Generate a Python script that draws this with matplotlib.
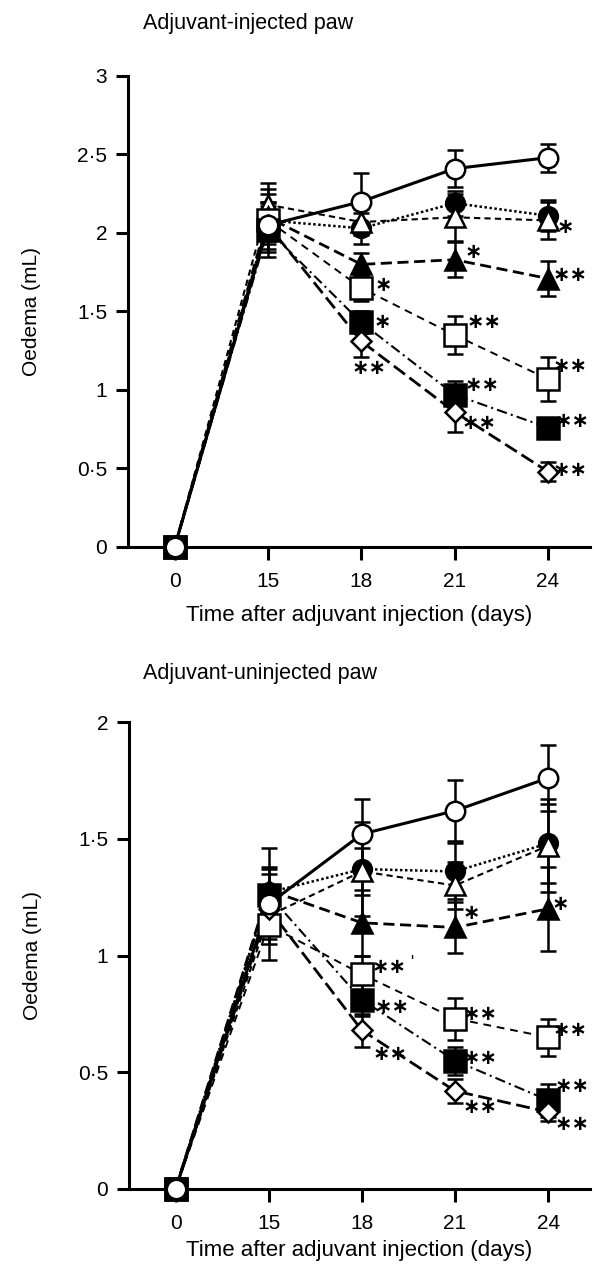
import matplotlib
matplotlib.use("Agg")
import matplotlib.pyplot as plt
import numpy as np

plt.rcParams['font.family'] = ['Liberation Sans', 'DejaVu Sans']

# ---------------- data ----------------
days = ['0', '15', '18', '21', '24']

# Adjuvant-injected paw
inj_ctrl = [0, 2.05, 2.20, 2.41, 2.48]
inj_ctrl_se = [0, 0.15, 0.18, 0.12, 0.09]
inj_fcirc = [0, 2.08, 2.03, 2.19, 2.11]
inj_fcirc_se = [0, 0.20, 0.10, 0.08, 0.10]
inj_otri = [0, 2.18, 2.07, 2.10, 2.08]
inj_otri_se = [0, 0.14, 0.08, 0.15, 0.12]
inj_ftri = [0, 2.10, 1.80, 1.83, 1.71]
inj_ftri_se = [0, 0.15, 0.07, 0.11, 0.11]
inj_osq = [0, 2.08, 1.65, 1.35, 1.07]
inj_osq_se = [0, 0.12, 0.08, 0.12, 0.14]
inj_fsq = [0, 2.02, 1.43, 0.97, 0.76]
inj_fsq_se = [0, 0.17, 0.07, 0.09, 0.05]
inj_dia = [0, 2.05, 1.31, 0.86, 0.48]
inj_dia_se = [0, 0.12, 0.10, 0.13, 0.06]

# Adjuvant-uninjected paw
un_ctrl = [0, 1.22, 1.52, 1.62, 1.76]
un_ctrl_se = [0, 0.24, 0.15, 0.13, 0.14]
un_fcirc = [0, 1.27, 1.37, 1.36, 1.48]
un_fcirc_se = [0, 0.10, 0.20, 0.12, 0.17]
un_otri = [0, 1.17, 1.36, 1.30, 1.47]
un_otri_se = [0, 0.10, 0.10, 0.10, 0.20]
un_ftri = [0, 1.28, 1.14, 1.12, 1.20]
un_ftri_se = [0, 0.10, 0.14, 0.11, 0.18]
un_osq = [0, 1.13, 0.92, 0.73, 0.65]
un_osq_se = [0, 0.08, 0.08, 0.09, 0.08]
un_fsq = [0, 1.26, 0.81, 0.55, 0.38]
un_fsq_se = [0, 0.09, 0.07, 0.06, 0.07]
un_dia = [0, 1.20, 0.68, 0.42, 0.33]
un_dia_se = [0, 0.10, 0.07, 0.05, 0.04]

# significance marks: (x position in category units, y value, text)
inj_marks_x = [2.24, 2.22, 2.08, 3.20, 3.31, 3.29, 3.26, 4.19, 4.24, 4.24, 4.26, 4.24]
inj_marks_y = [1.67, 1.43, 1.14, 1.88, 1.43, 1.03, 0.79, 2.04, 1.73, 1.15, 0.80, 0.49]
inj_marks_t = ['*', '*', '**', '*', '**', '**', '**', '*', '**', '**', '**', '**']

un_marks_x = [2.29, 2.32, 2.30, 3.18, 3.27, 3.27, 3.27, 4.13, 4.24, 4.26, 4.26]
un_marks_y = [0.95, 0.78, 0.58, 1.18, 0.75, 0.56, 0.35, 1.22, 0.68, 0.44, 0.28]
un_marks_t = ['**', '**', '**', '*', '**', '**', '**', '*', '**', '**', '**']

# ---------------- styles ----------------
styles = [
    # (marker, facecolor, linestyle, linewidth, markersize)
    ('o', 'black', (0, (1, 1)), 1.8, 13.5),          # filled circle, dotted
    ('^', 'white', (0, (3, 2)), 1.5, 14),            # open triangle, dashed
    ('^', 'black', (0, (4, 2)), 2.0, 14),            # filled triangle, dashed
    ('s', 'white', (0, (4, 3)), 1.4, 16.5),          # open square, dashed
    ('s', 'black', (0, (5, 2, 1, 2)), 1.5, 16.5),    # filled square, dash-dot
    ('D', 'white', (0, (5, 2)), 2.0, 10.5),          # diamond, dashed
    ('o', 'white', '-', 2.2, 14),                    # control, solid
]

fig = plt.figure(figsize=(5.94, 12.65), dpi=100)
W, H = 594, 1265


def make_axes(left, right, top, bottom):
    return fig.add_axes([left / W, 1 - bottom / H, (right - left) / W, (bottom - top) / H])


ax1 = make_axes(128, 590, 76, 547)
ax2 = make_axes(129, 590, 722, 1189)

x = np.arange(len(days))

panels = [
    (ax1, [inj_fcirc, inj_otri, inj_ftri, inj_osq, inj_fsq, inj_dia, inj_ctrl],
     [inj_fcirc_se, inj_otri_se, inj_ftri_se, inj_osq_se, inj_fsq_se, inj_dia_se, inj_ctrl_se],
     3, [0, 0.5, 1, 1.5, 2, 2.5, 3], ['0', '0·5', '1', '1·5', '2', '2·5', '3'],
     inj_marks_x, inj_marks_y, inj_marks_t, 'Adjuvant-injected paw', 23, 10),
    (ax2, [un_fcirc, un_otri, un_ftri, un_osq, un_fsq, un_dia, un_ctrl],
     [un_fcirc_se, un_otri_se, un_ftri_se, un_osq_se, un_fsq_se, un_dia_se, un_ctrl_se],
     2, [0, 0.5, 1, 1.5, 2], ['0', '0·5', '1', '1·5', '2'],
     un_marks_x, un_marks_y, un_marks_t, 'Adjuvant-uninjected paw', 673, 5),
]

for ax, series, errs, ymax, yt, ytl, mx, my, mt, title, ty, xlp in panels:
    for k, (vals, se) in enumerate(zip(series, errs)):
        ax.errorbar(x[1:], vals[1:], yerr=se[1:], fmt='none', ecolor='black',
                    elinewidth=1.8, capsize=6, capthick=1.8, zorder=2 + k * 0.1,
                    clip_on=False)
    for k, (vals, st) in enumerate(zip(series, styles)):
        m, fc, ls, lw, ms = st
        ax.plot(x, vals, linestyle=ls, color='black', linewidth=lw, zorder=3 + k * 0.1,
                clip_on=False)
        ax.plot(x, vals, linestyle='none', marker=m, markerfacecolor=fc,
                markeredgecolor='black', markeredgewidth=1.8, markersize=ms,
                zorder=4 + k * 0.1, clip_on=False)
    for xx, yy, tt in zip(mx, my, mt):
        ax.text(xx, yy, tt.replace('*', '∗'), family='DejaVu Sans', fontsize=15,
                ha='center', va='center', fontweight='bold', zorder=6)

    ax.set_xlim(-0.5, 4.45)
    ax.set_ylim(0, ymax)
    ax.set_xticks(x)
    ax.set_xticklabels(days)
    ax.set_yticks(yt)
    ax.set_yticklabels(ytl)
    for s in ['top', 'right']:
        ax.spines[s].set_visible(False)
    for s in ['left', 'bottom']:
        ax.spines[s].set_linewidth(2.2)
    ax.spines['bottom'].set_bounds(-0.5, 4.45)
    ax.tick_params(axis='both', direction='out', length=9, width=2.2,
                   labelsize=15, pad=6)
    ax.tick_params(axis='x', pad=9)
    ax.set_xlabel('Time after adjuvant injection (days)', fontsize=16, labelpad=xlp)
    ax.set_ylabel('Oedema (mL)', fontsize=15, labelpad=26)
    fig.text(143 / W, 1 - ty / H, title, fontsize=15.5, ha='left', va='center')

ax2.text(2.54, 0.97, "'", fontsize=12, ha='center', va='center')

fig.savefig('out.png', dpi=100)
